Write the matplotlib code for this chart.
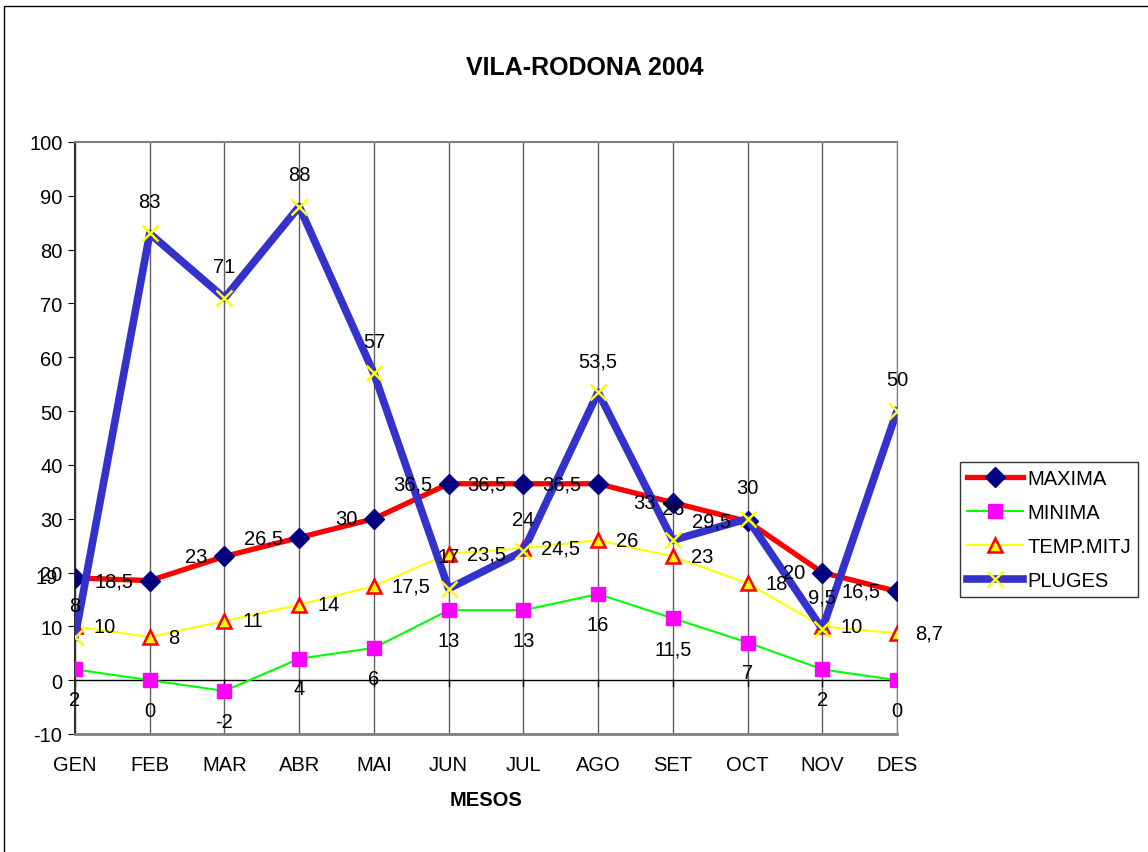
import matplotlib
matplotlib.use("Agg")
import matplotlib.pyplot as plt
from matplotlib.patches import Rectangle

plt.rcParams['font.family'] = ['Liberation Sans', 'DejaVu Sans']
plt.rcParams['axes.unicode_minus'] = False

mesos = ['GEN', 'FEB', 'MAR', 'ABR', 'MAI', 'JUN', 'JUL', 'AGO', 'SET', 'OCT', 'NOV', 'DES']
maxima = [19, 18.5, 23, 26.5, 30, 36.5, 36.5, 36.5, 33, 29.5, 20, 16.5]
minima = [2, 0, -2, 4, 6, 13, 13, 16, 11.5, 7, 2, 0]
temp_mitj = [10, 8, 11, 14, 17.5, 23.5, 24.5, 26, 23, 18, 10, 8.7]
pluges = [8, 83, 71, 88, 57, 17, 24, 53.5, 26, 30, 9.5, 50]

def fmt(v):
    # coma decimal com a l'original
    s = ('%g' % v)
    return s.replace('.', ',')

fig = plt.figure(figsize=(11.48, 8.53), dpi=100)
ax = fig.add_axes([75/1148, 118/853, 822/1148, 592/853])

x = list(range(len(mesos)))

ax.plot(x, maxima, color='red', lw=3.8, marker='D', ms=10,
        mfc='#000080', mec='#000080', label='MAXIMA', zorder=3)
ax.plot(x, minima, color='#00ff00', lw=1.5, marker='s', ms=10,
        mfc='#ff00ff', mec='#ff00ff', label='MINIMA', zorder=4)
ax.plot(x, temp_mitj, color='#ffff00', lw=1.5, marker='^', ms=10,
        mfc='#ffff00', mec='red', mew=1.8, label='TEMP.MITJ', zorder=5)
ax.plot(x, pluges, color='#3333cc', lw=5.5, marker='x', ms=11,
        mec='#ffff00', mew=1.8, label='PLUGES', zorder=6)

fs = 14.5
for i in x:
    ax.annotate(fmt(maxima[i]), (i, maxima[i]), xytext=(-12, 0), textcoords='offset points',
                ha='right', va='center', fontsize=fs, zorder=10)
    ax.annotate(fmt(minima[i]), (i, minima[i]), xytext=(0, -15), textcoords='offset points',
                ha='center', va='top', fontsize=fs, zorder=10)
    ax.annotate(fmt(temp_mitj[i]), (i, temp_mitj[i]), xytext=(13, 0), textcoords='offset points',
                ha='left', va='center', fontsize=fs, zorder=10)
    ax.annotate(fmt(pluges[i]), (i, pluges[i]), xytext=(0, 16), textcoords='offset points',
                ha='center', va='bottom', fontsize=fs, zorder=10)

ax.set_xlim(0, 11)
ax.set_ylim(-10, 100)
ax.set_yticks(range(-10, 101, 10))
ax.set_xticks(x)
ax.set_xticklabels(mesos)
ax.tick_params(axis='y', labelsize=fs, length=5, direction='out', color='black', pad=4)
ax.tick_params(axis='x', labelsize=fs, length=0, pad=15)

for xi in x:
    ax.axvline(xi, color='#606060', lw=1, zorder=1)
ax.axhline(0, color='black', lw=1, zorder=2)
for xi in x:
    ax.plot([xi, xi], [0, -1.0], color='black', lw=1, zorder=2)

for s in ['top', 'right', 'bottom']:
    ax.spines[s].set_color('#808080')
ax.spines['bottom'].set_linewidth(2)
ax.spines['top'].set_linewidth(1.5)
ax.spines['left'].set_color('#303030')
ax.spines['left'].set_linewidth(1.5)

ax.set_xlabel('MESOS', fontsize=14.5, fontweight='bold', labelpad=12)
fig.text(585/1148, 1 - 68/853, 'VILA-RODONA 2004', ha='center', va='center',
         fontsize=18, fontweight='bold')

leg = fig.legend(loc='upper left', bbox_to_anchor=(960/1148, 1 - 463/853),
                 fontsize=14.5, frameon=True, fancybox=False, edgecolor='black',
                 handlelength=2.8, borderpad=0.35, labelspacing=0.75, handletextpad=0.2,
                 borderaxespad=0)
leg.get_frame().set_linewidth(1)

fig.patches.append(Rectangle((4/1148, -0.1), 1.2, 1.1 - 7/853,
                             transform=fig.transFigure, fill=False,
                             edgecolor='black', lw=1))

fig.savefig('out.png', dpi=100)
